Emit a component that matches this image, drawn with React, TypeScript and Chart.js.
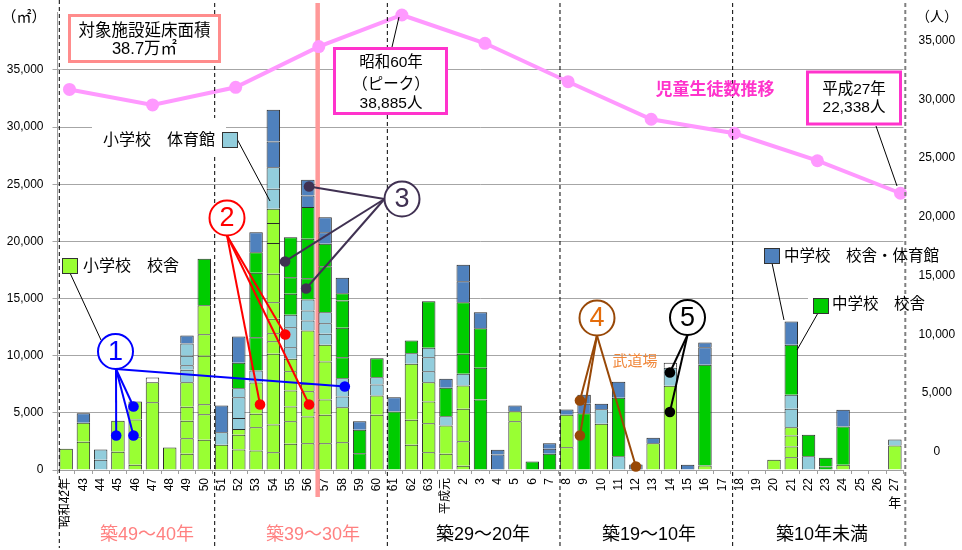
import React, { useEffect, useRef } from 'react';
import { Chart, registerables } from 'chart.js';

Chart.register(...registerables);

// ---------- data ----------
const categories: string[] = [
  '昭和42年', '43', '44', '45', '46', '47', '48', '49', '50', '51', '52', '53', '54', '55', '56', '57', '58', '59', '60',
  '61', '62', '63', '平成元', '2', '3', '4', '5', '6', '7', '8', '9', '10', '11', '12', '13', '14', '15', '16', '17',
  '18', '19', '20', '21', '22', '23', '24', '25', '26', '27',
];

// floor area (㎡) per building, listed bottom-up, for each year of construction
const elemSchoolBldg: number[][] = [
  [1855], [2470, 1660], [], [1590, 2710], [455, 2415, 1550, 1570], [5935, 1750], [1970],
  [1415, 1370, 1515, 1230, 2155], [2640, 2245, 875, 4230, 1895, 2535], [2205], [1795, 1285, 500],
  [1705, 2040, 1170, 2745], [1560, 2420, 6185, 1105, 700, 1260, 1455, 2485, 2680, 1750, 1255],
  [2290, 1980, 1285, 1400, 1690, 1085], [2345, 2335, 2215, 645, 4665], [2345, 2485, 1345, 3320, 1465],
  [2435, 3065], [], [4830, 1690], [], [2200, 2190, 4900], [1560, 2535, 1900, 1690], [1415, 2480],
  [365, 2155, 2835, 2040], [], [], [4270, 875], [], [], [1995, 2835], [], [4040], [], [], [2345], [7365],
  [], [395], [], [], [], [890], [1120, 935, 965, 725], [], [], [455], [], [], [2145],
];

const elemSchoolGym: number[][] = [
  [], [], [890, 905], [], [], [], [], [1080, 405, 820, 1080], [], [1105], [970, 1820, 790], [1045],
  [1745, 1895], [1015, 1750, 1085], [875, 875, 965], [955, 930, 965], [930, 1605], [], [960, 640], [],
  [930], [960, 1225, 820], [815], [1025], [], [], [], [], [], [], [], [1280], [1210], [], [], [1575],
  [], [], [], [], [], [], [1610, 1225], [1210], [], [], [], [], [525],
];

const juniorSchoolBldg: number[][] = [
  [], [], [], [], [], [], [], [], [4060], [], [2220], [2915, 5635, 1805], [], [1840, 1450, 3500],
  [1860, 3450, 2770], [4020, 1960], [1835, 2570, 2390, 640], [1470, 2045], [1660], [5120], [1110],
  [4080], [2480], [1750, 4515], [6170, 2775, 3465], [], [], [745], [1415], [], [4970], [], [5110], [],
  [], [], [], [8810], [], [], [], [], [4375], [1870], [305, 760], [3350], [], [], [],
];

const juniorSchoolBldgGym: number[][] = [
  [], [840], [], [], [], [], [], [700], [], [2335], [2300], [1750], [2250, 2770], [], [1020, 1370],
  [1020, 1310], [1345], [755], [], [1250], [], [], [790], [1835, 1435], [1400], [1355, 415], [500], [],
  [440, 490], [465], [820, 790], [470], [1400], [480], [470], [], [455], [1540, 410], [], [], [], [],
  [2040], [], [], [1460], [], [], [],
];

const otherFacility: number[][] = [
  [], [], [], [], [], [405], [], [], [], [], [], [], [], [], [], [], [], [], [], [], [], [], [], [], [],
  [], [], [], [], [], [], [], [], [], [], [440], [], [], [], [], [], [], [], [], [], [], [], [], [],
];

// number of pupils and students (right axis)
const studentYears: number[] = [1965, 1970, 1975, 1980, 1985, 1990, 1995, 2000, 2005, 2010, 2015];
const studentCounts: number[] = [30850, 29530, 31030, 34500, 37190, 34780, 31510, 28310, 27120, 24780, 22010];

const leftTicks: number[] = [0, 5000, 10000, 15000, 20000, 25000, 30000, 35000];
const rightTicks: number[] = [0, 5000, 10000, 15000, 20000, 25000, 30000, 35000];

const ageGroups: string[] = ['築49～40年', '築39～30年', '築29～20年', '築19～10年', '築10年未満'];
const ageGroupStarts: number[] = [0, 9, 19, 29, 39, 49];

// ---------- styling ----------
const FONT = "'Liberation Sans', 'Noto Sans CJK JP', sans-serif";
const C_ELEM = '#99FF33';
const C_ELEM_GYM = '#92CDDC';
const C_JR = '#00CC00';
const C_JR_GYM = '#4F81BD';
const C_OTHER = '#FFFFFF';
const C_PINK_LINE = '#FF99FF';
const C_MAGENTA = '#FF33CC';
const BAR_BORDER = '#2b2b2b';

function layerDatasets(src: number[][], label: string, color: string) {
  const depth = Math.max(...src.map((s) => s.length));
  const out: any[] = [];
  for (let k = 0; k < depth; k++) {
    out.push({
      type: 'bar',
      label,
      data: src.map((s) => (k < s.length ? s[k] : null)),
      backgroundColor: color,
      borderColor: BAR_BORDER,
      borderWidth: 1,
      borderSkipped: 'start',
      xAxisID: 'x',
      yAxisID: 'y',
      stack: 'floor',
      grouped: false,
      barPercentage: 0.78,
      categoryPercentage: 1,
      order: 1,
    });
  }
  return out;
}

type Pointer = {
  n: string; cx: number; cy: number; from: [number, number];
  stroke: string; digit: string; dots: [number, number][];
};

const pointers: Pointer[] = [
  { n: '1', cx: 115.5, cy: 351.5, from: [116, 369], stroke: '#0000FF', digit: '#0000FF',
    dots: [[2.9, 3020], [3.9, 3020], [3.9, 5555], [16.14, 7305]] },
  { n: '2', cx: 227, cy: 218, from: [227, 235.5], stroke: '#FF0000', digit: '#FF0000',
    dots: [[11.23, 5731], [12.69, 11856], [14.07, 5731]] },
  { n: '3', cx: 402, cy: 199, from: [384.5, 199], stroke: '#403152', digit: '#403152',
    dots: [[14.07, 24806], [12.68, 18244], [13.9, 15881]] },
  { n: '4', cx: 597, cy: 318, from: [597, 335.5], stroke: '#984807', digit: '#E46C0A',
    dots: [[29.76, 6081], [29.76, 3019], [33.0, 306]] },
  { n: '5', cx: 687.5, cy: 317.5, from: [687.5, 335], stroke: '#000000', digit: '#000000',
    dots: [[34.97, 8531], [34.97, 5075]] },
];

function txt(ctx: CanvasRenderingContext2D, s: string, x: number, y: number, size: number,
  color = '#000', align: CanvasTextAlign = 'center', weight = 'normal') {
  ctx.font = `${weight} ${size}px ${FONT}`;
  ctx.fillStyle = color;
  ctx.textAlign = align;
  ctx.textBaseline = 'middle';
  ctx.fillText(s, x, y);
}

function line(ctx: CanvasRenderingContext2D, x1: number, y1: number, x2: number, y2: number, color: string, w = 1) {
  ctx.beginPath();
  ctx.strokeStyle = color;
  ctx.lineWidth = w;
  ctx.moveTo(x1, y1);
  ctx.lineTo(x2, y2);
  ctx.stroke();
}

function swatch(ctx: CanvasRenderingContext2D, x: number, y: number, color: string) {
  ctx.fillStyle = color;
  ctx.fillRect(x, y, 15, 15);
  ctx.strokeStyle = '#333';
  ctx.lineWidth = 1;
  ctx.strokeRect(x + 0.5, y + 0.5, 15, 15);
}

function box(ctx: CanvasRenderingContext2D, x: number, y: number, w: number, h: number, color: string) {
  ctx.fillStyle = '#fff';
  ctx.fillRect(x, y, w, h);
  ctx.strokeStyle = color;
  ctx.lineWidth = 3;
  ctx.strokeRect(x, y, w, h);
}

function boundaryPx(chart: any, idx: number) {
  const xs = chart.scales.x;
  return xs.getPixelForValue(idx - 0.5);
}

const decorPlugin = {
  id: 'decor',
  beforeDatasetsDraw(chart: any) {
    const ctx: CanvasRenderingContext2D = chart.ctx;
    ctx.save();
    // pink marker line between 昭和56 and 57
    const px = boundaryPx(chart, 15) + 1.2;
    line(ctx, px, 3, px, 497, '#FF9999', 4.5);
    ctx.restore();
  },
  afterDatasetsDraw(chart: any) {
    const ctx: CanvasRenderingContext2D = chart.ctx;
    ctx.save();
    ctx.setLineDash([4, 3]);
    ageGroupStarts.forEach((idx, k) => {
      const x = boundaryPx(chart, idx) + 1.8;
      const last = k === ageGroupStarts.length - 1;
      line(ctx, x, k === 0 ? 0 : 3, x, 548, last ? '#808080' : '#000', last ? 2 : 1);
    });
    ctx.setLineDash([]);
    ctx.restore();
  },
  afterDraw(chart: any) {
    const ctx: CanvasRenderingContext2D = chart.ctx;
    const xs = chart.scales.x;
    const ys = chart.scales.y;
    ctx.save();

    // axis unit labels
    txt(ctx, '（㎡）', 24, 18, 15);
    txt(ctx, '（人）', 937, 17, 14);

    // "年" under the last tick
    txt(ctx, '年', xs.getPixelForValue(48), 503, 13);

    // age group labels
    const groupX = [147, 313, 483, 649, 822];
    ageGroups.forEach((g, i) => {
      txt(ctx, g, groupX[i], 535, 18, i < 2 ? '#FF8080' : '#000');
    });

    // total floor area box
    box(ctx, 69.5, 15.5, 150, 46, '#FF8C8C');
    txt(ctx, '対象施設延床面積', 144.5, 31.5, 16.5);
    txt(ctx, '38.7万㎡', 144.5, 49.5, 16.5);

    // peak box
    line(ctx, 392, 47, 399, 17, '#000', 1);
    box(ctx, 334.5, 48.5, 112, 65, C_MAGENTA);
    txt(ctx, '昭和60年', 391, 63, 15.5);
    txt(ctx, '（ピーク）', 391, 85, 15.5);
    txt(ctx, '38,885人', 391, 103.5, 15.5);

    // H27 box
    line(ctx, 876, 126, 897, 186, '#000', 1);
    box(ctx, 807.5, 72, 93, 52, C_MAGENTA);
    txt(ctx, '平成27年', 854, 90, 15.5);
    txt(ctx, '22,338人', 854, 107.5, 15.5);

    txt(ctx, '児童生徒数推移', 715, 90, 17, C_MAGENTA, 'center', 'bold');

    // legends with leaders
    ctx.fillStyle = '#fff';
    ctx.fillRect(92, 118, 134, 38);
    txt(ctx, '小学校　体育館', 103, 141, 16, '#000', 'left');
    line(ctx, 237, 139, 270, 201, '#000', 1);
    swatch(ctx, 222, 132, C_ELEM_GYM);

    line(ctx, 70, 273, 101, 340, '#000', 1);
    swatch(ctx, 62, 258, C_ELEM);
    txt(ctx, '小学校　校舎', 83, 267, 16, '#000', 'left');

    line(ctx, 772, 263, 784, 320, '#000', 1);
    swatch(ctx, 764, 248, C_JR_GYM);
    txt(ctx, '中学校　校舎・体育館', 784, 257, 15.5, '#000', 'left');

    ctx.fillStyle = '#fff';
    ctx.fillRect(808, 291, 95, 27);
    line(ctx, 818, 313, 797, 350, '#000', 1);
    swatch(ctx, 813, 298, C_JR);
    txt(ctx, '中学校　校舎', 832, 305, 15.5, '#000', 'left');

    txt(ctx, '武道場', 635, 362, 15, '#F0883C');

    // circled pointers
    pointers.forEach((p) => {
      p.dots.forEach(([i, v]) => {
        const dx = xs.getPixelForValue(i);
        const dy = ys.getPixelForValue(v);
        line(ctx, p.from[0], p.from[1], dx, dy, p.stroke, 2);
      });
      p.dots.forEach(([i, v]) => {
        const dx = xs.getPixelForValue(i);
        const dy = ys.getPixelForValue(v);
        ctx.beginPath();
        ctx.fillStyle = p.stroke;
        ctx.arc(dx, dy, 5.3, 0, Math.PI * 2);
        ctx.fill();
      });
      ctx.beginPath();
      ctx.fillStyle = '#fff';
      ctx.strokeStyle = p.stroke;
      ctx.lineWidth = 2;
      ctx.arc(p.cx, p.cy, 17.5, 0, Math.PI * 2);
      ctx.fill();
      ctx.stroke();
      txt(ctx, p.n, p.cx, p.cy + 1, 27, p.digit);
    });

    ctx.restore();
  },
};

const noVerticalPad = (s: any) => { s.paddingTop = 0; s.paddingBottom = 0; };

export default function App() {
  const ref = useRef<HTMLCanvasElement>(null);

  useEffect(() => {
    const datasets: any[] = [
      {
        type: 'line',
        label: '児童生徒数推移',
        data: studentYears.map((yr, i) => ({ x: yr, y: studentCounts[i] })),
        xAxisID: 'x2',
        yAxisID: 'y1',
        borderColor: C_PINK_LINE,
        backgroundColor: C_PINK_LINE,
        borderWidth: 4,
        pointRadius: 6.5,
        pointBorderWidth: 0,
        pointBackgroundColor: C_PINK_LINE,
        tension: 0,
        clip: false,
        order: 0,
      },
      ...layerDatasets(elemSchoolBldg, '小学校 校舎', C_ELEM),
      ...layerDatasets(elemSchoolGym, '小学校 体育館', C_ELEM_GYM),
      ...layerDatasets(juniorSchoolBldg, '中学校 校舎', C_JR),
      ...layerDatasets(juniorSchoolBldgGym, '中学校 校舎・体育館', C_JR_GYM),
      ...layerDatasets(otherFacility, 'その他', C_OTHER),
    ];

    const chart = new Chart(ref.current as HTMLCanvasElement, {
      type: 'bar',
      data: { labels: categories, datasets },
      options: {
        responsive: false,
        animation: false,
        events: [],
        devicePixelRatio: 1,
        layout: { padding: { top: 12.8, left: 0, right: 0, bottom: 0 } },
        plugins: { legend: { display: false }, tooltip: { enabled: false } },
        scales: {
          x: {
            type: 'category',
            stacked: true,
            offset: true,
            grid: { display: true, drawOnChartArea: false, drawTicks: true, tickLength: 4, color: '#A0A0A0', offset: true },
            border: { display: true, color: '#A0A0A0' },
            ticks: {
              autoSkip: false, minRotation: 90, maxRotation: 90, padding: 4,
              color: '#000', font: { family: FONT, size: 12 },
            },
            afterFit: (s: any) => { s.height = 80; s.paddingLeft = 0; s.paddingRight = 0; },
          },
          x2: {
            type: 'linear',
            display: true,
            position: 'top',
            offset: false,
            bounds: 'data',
            min: 1964.28,
            max: 2015.18,
            grid: { display: false, drawTicks: false, offset: false },
            border: { display: false },
            ticks: { display: false },
            afterFit: (s: any) => { s.height = 0; s.paddingLeft = 0; s.paddingRight = 0; },
          },
          y: {
            type: 'linear',
            position: 'left',
            stacked: true,
            min: 0,
            max: 40000,
            grid: { color: '#A6A6A6', drawTicks: true, tickLength: 5 },
            border: { display: true, color: '#A0A0A0' },
            ticks: {
              padding: 9, color: '#000', font: { family: FONT, size: 12 },
              callback: (v: any) => Number(v).toLocaleString('en-US'),
            },
            afterBuildTicks: (axis: any) => { axis.ticks = leftTicks.map((v) => ({ value: v })); },
            afterFit: (s: any) => { s.width = 57.5; noVerticalPad(s); },
          },
          y1: {
            type: 'linear',
            position: 'right',
            min: -1558,
            max: 37377,
            grid: { display: false, drawTicks: false },
            border: { display: false },
            ticks: {
              padding: 15, crossAlign: 'center', color: '#000', font: { family: FONT, size: 12 },
              callback: (v: any) => Number(v).toLocaleString('en-US'),
            },
            afterBuildTicks: (axis: any) => { axis.ticks = rightTicks.map((v) => ({ value: v })); },
            afterFit: (s: any) => { s.width = 58.5; noVerticalPad(s); },
          },
        },
      } as any,
      plugins: [decorPlugin],
    });
    return () => chart.destroy();
  }, []);

  return (
    <div style={{ position: 'absolute', left: 0, top: 0, width: 962, height: 550, background: '#fff' }}>
      <canvas ref={ref} width={962} height={550} style={{ width: 962, height: 550, display: 'block' }} />
    </div>
  );
}
